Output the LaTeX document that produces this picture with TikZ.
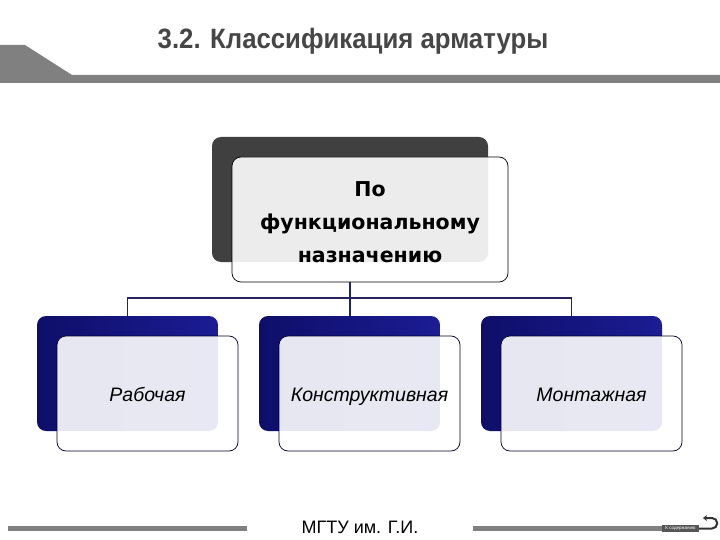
\documentclass[tikz,border=0pt]{standalone}
\usepackage{fontspec}
\usetikzlibrary{arrows.meta}
\setmainfont{Liberation Sans}
\newfontfamily\narrowfont[FakeStretch=0.92]{Liberation Sans}
\newfontfamily\verdanalike{DejaVu Sans}
\definecolor{hdrgray}{HTML}{808080}
\definecolor{titlegray}{HTML}{464646}
\definecolor{darkback}{HTML}{404040}
\definecolor{navy}{HTML}{1C1C94}
\definecolor{navydark}{HTML}{0E0E6A}
\definecolor{connect}{HTML}{24245E}
\definecolor{footdark}{HTML}{555555}
\begin{document}
\begin{tikzpicture}[x=1pt,y=-1pt,
  backbox/.style={rounded corners=9pt, minimum width=276pt, minimum height=125pt, inner sep=0pt},
  frontbox/.style={rounded corners=9pt, draw=black, line width=0.7pt, fill=white, fill opacity=0.9, inner sep=0pt},
  navyback/.style={rounded corners=9pt, minimum width=181pt, minimum height=115pt, inner sep=0pt, left color=navydark, right color=navy},
  smallfront/.style={frontbox, draw=black!85!blue, minimum width=181pt, minimum height=115pt},
  smalltext/.style={font=\itshape\fontsize{19.5}{22}\selectfont, inner sep=0pt, execute at begin node=\strut},
  toptext/.style={font=\verdanalike\bfseries\fontsize{20.5}{33}\selectfont, align=center, inner sep=0pt},
  conn/.style={draw=connect, line width=1.6pt},
  footbar/.style={fill=hdrgray, draw=none}]
\useasboundingbox (0,0) rectangle (720,540);
\fill[white] (0,0) rectangle (720,540);
% header
\fill[hdrgray] (0,45) -- (25,45) -- (72,75) -- (720,75) -- (720,83) -- (0,83) -- cycle;
\node[text=titlegray, font=\narrowfont\bfseries\fontsize{28}{32}\selectfont] (title) at (353,41) {3.2. Классификация арматуры};
% top box
\node[backbox, fill=darkback] (topback) at (350,199.5) {};
\node[frontbox, minimum width=276pt, minimum height=125pt] (topfront) at (370,219.5) {};
\node[toptext] (toplabel) at ([yshift=-3pt]topfront.center) {По\\функциональному\\назначению};
% bottom boxes
\node[navyback] (b1) at (127.5,373.5) {};
\node[navyback] (b2) at (349.5,373.5) {};
\node[navyback] (b3) at (571.5,373.5) {};
% connectors
\coordinate (jn) at (350,298);
\draw[conn] (topback.south |- topfront.south) -- (jn);
\draw[conn] (jn) -| (b1.north);
\draw[conn] (jn) -| (b3.north);
\draw[conn] (jn) -- (b2.north -| jn);
\node[smallfront] (f1) at (147.5,393.5) {};
\node[smallfront] (f2) at (369.5,393.5) {};
\node[smallfront] (f3) at (591.5,393.5) {};
\node[smalltext] (t1) at ([yshift=-4pt]f1.center) {Рабочая};
\node[smalltext] (t2) at ([yshift=-4pt]f2.center) {Конструктивная};
\node[smalltext] (t3) at ([yshift=-4pt]f3.center) {Монтажная};
% footer
\fill[footbar] (8,525.5) rectangle (247,530.5);
\fill[footbar] (473,525.5) rectangle (662,530.5);
\fill[footdark] (662,524.5) rectangle (699,531.5);
\node[font=\fontsize{4.5}{5}\selectfont, text=white, inner sep=0pt] (toc) at (680.5,528) {К содержанию};
\node[font=\fontsize{18}{21}\selectfont, inner sep=0pt] (foot) at (360,527.5) {МГТУ им. Г.И.};
\coordinate (arrS) at (699,528.5);
\coordinate (arrE) at (703,518);
\draw[line width=2pt, black!80, -{Stealth[length=4pt,width=6pt]}] (arrS) -- (712,528.5) arc[start angle=-90, end angle=90, radius=5.25pt] -- (arrE);
\end{tikzpicture}
\end{document}
